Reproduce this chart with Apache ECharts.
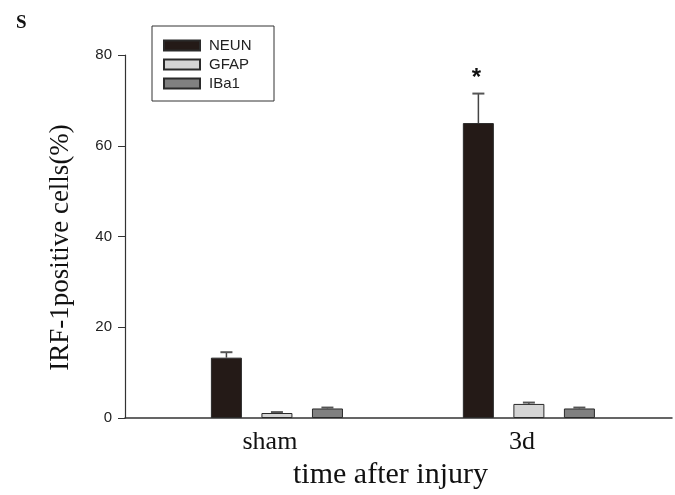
<!DOCTYPE html>
<html>
<head>
<meta charset="utf-8">
<script src="https://cdn.jsdelivr.net/npm/echarts@6/dist/echarts.min.js"></script>
<style>
  html, body { margin: 0; padding: 0; background: #fff; }
  #chart { width: 675px; height: 495px; }
</style>
</head>
<body>
<div id="chart"></div>
<script>
// groups along x: 1 = sham, 2 = 3d
const groupPos = [1, 2];
const groupNames = ['sham', '3d'];
const seriesNames = ['NEUN', 'GFAP', 'IBa1'];
const neun = [13.3, 65.0];
const gfap = [1.1, 3.1];
const iba1 = [2.1, 2.1];
const neunErr = [1.2, 6.5];
const gfapErr = [0.2, 0.3];
const iba1Err = [0.2, 0.2];
const yTicks = [0, 20, 40, 60, 80];
const significant = [[false, true], [false, false], [false, false]];

const colors = ['#241a17', '#d4d4d4', '#808080'];
const values = [neun, gfap, iba1];
const errs = [neunErr, gfapErr, iba1Err];
const barW = 31;
const barStep = 50.5; // bar width + gap

const chart = echarts.init(document.getElementById('chart'));

const barSeries = seriesNames.map((name, i) => ({
  name: name,
  type: 'bar',
  barWidth: barW,
  barGap: '63%',
  data: groupPos.map((x, j) => [x, values[i][j]]),
  itemStyle: { color: colors[i], borderColor: '#2a2a2a', borderWidth: 1 },
  z: 2
}));

const errSeries = seriesNames.map((name, i) => ({
  type: 'custom',
  silent: true,
  z: 3,
  data: groupPos.map((x, j) => [x, values[i][j], values[i][j] + errs[i][j], significant[i][j] ? 1 : 0]),
  renderItem: (params, api) => {
    const base = api.coord([api.value(0), api.value(1)]);
    const top = api.coord([api.value(0), api.value(2)]);
    const cx = base[0] + (i - 1) * barStep;
    const children = [
      { type: 'line', shape: { x1: cx, y1: base[1], x2: cx, y2: top[1] }, style: { stroke: '#444', lineWidth: 1.5 } },
      { type: 'line', shape: { x1: cx - 6, y1: top[1], x2: cx + 6, y2: top[1] }, style: { stroke: '#555', lineWidth: 2 } }
    ];
    if (api.value(3)) {
      children.push({ type: 'text', style: { text: '*', x: cx - 2, y: top[1] - 3, fill: '#111',
        font: 'bold 24px "Liberation Sans"', align: 'center', verticalAlign: 'bottom' } });
    }
    return { type: 'group', children: children };
  }
}));

chart.setOption({
  animation: false,
  title: {
    text: 'S', left: 11, top: 9,
    textStyle: { fontFamily: 'Liberation Serif', fontWeight: 'bold', fontSize: 19, color: '#111' }
  },
  legend: {
    data: seriesNames,
    orient: 'vertical',
    left: 152, top: 26,
    padding: [12, 14, 10, 11],
    itemWidth: 36, itemHeight: 10, itemGap: 4,
    borderColor: '#333', borderWidth: 1,
    icon: 'rect',
    textStyle: { fontFamily: 'Liberation Sans', fontSize: 15, lineHeight: 14, color: '#222', width: 51, padding: [0, 0, 0, 4] }
  },
  grid: { left: 125, right: 3, top: 55, bottom: 77 },
  xAxis: {
    type: 'value',
    min: 0.397, max: 2.568,
    splitLine: { show: false },
    axisLine: { lineStyle: { color: '#333', width: 1.5 } },
    axisTick: { show: false },
    axisLabel: {
      customValues: groupPos,
      formatter: v => groupNames[groupPos.indexOf(v)],
      fontFamily: 'Liberation Serif', fontSize: 26, color: '#111', margin: 11,
      padding: [0, 14, 0, 0]
    },
    name: 'time after injury',
    nameLocation: 'middle',
    nameGap: 36,
    nameTextStyle: { fontFamily: 'Liberation Serif', fontSize: 30, color: '#111', padding: [0, 16, 0, 0] }
  },
  yAxis: {
    type: 'value',
    min: 0, max: 80, interval: 20,
    splitLine: { show: false },
    axisLine: { show: true, lineStyle: { color: '#333', width: 1.2 } },
    axisTick: { show: true, length: 7, lineStyle: { color: '#333' } },
    axisLabel: {
      formatter: v => (yTicks.indexOf(v) >= 0 ? String(v) : ''),
      fontFamily: 'Liberation Sans', fontSize: 15, color: '#222', margin: 13
    },
    name: 'IRF-1positive cells(%)',
    nameLocation: 'middle',
    nameGap: 51,
    nameTextStyle: { fontFamily: 'Liberation Serif', fontSize: 27, color: '#111', padding: [0, 22, 0, 0] }
  },
  series: barSeries.concat(errSeries)
});
</script>
</body>
</html>
